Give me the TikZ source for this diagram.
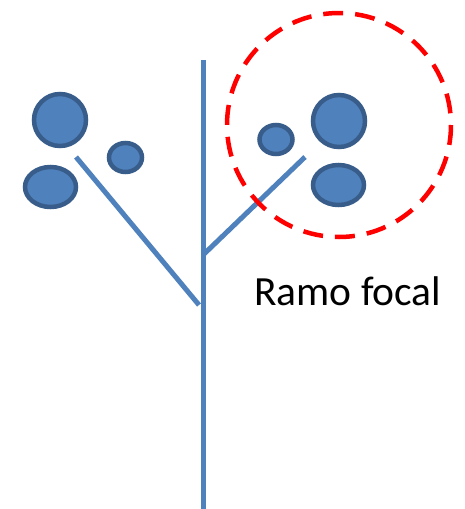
\documentclass[tikz,border=0pt]{standalone}
\usepackage{fontspec}
\setmainfont{Carlito}
\usetikzlibrary{positioning}
\definecolor{budfill}{HTML}{4F81BD}
\definecolor{budline}{HTML}{385D8A}

\begin{document}
\begin{tikzpicture}[
  x=1pt, y=-1pt,
  stem/.style={draw=budfill, line width=5pt},
  bud/.style={draw=budline, fill=budfill, line width=4.5pt},
  focus/.style={draw=red, line width=4.5pt, dash pattern=on 20pt off 12pt}
]
\useasboundingbox (0,0) rectangle (464,509);

% stem and branches
\coordinate (top) at (203,60);
\coordinate (bottom) at (203,512);
\coordinate (lfork) at (199,305);
\coordinate (ltip) at (76,157);
\coordinate (rfork) at (203,255);
\coordinate (rtip) at (305,157);

\draw[stem] (top) -- (bottom);
\draw[stem] (lfork) -- (ltip);
\draw[stem] (rfork) -- (rtip);

% buds
\draw[bud] (60,120) circle (26);
\draw[bud] (125.5,157.5) ellipse (16.5 and 14.5);
\draw[bud] (50.5,187) ellipse (25.5 and 20);
\draw[bud] (276,139.5) ellipse (16.5 and 14.5);
\draw[bud] (339,121) circle (26);
\draw[bud] (338.5,185) ellipse (25.5 and 20);

% focal branch
\draw[focus] (339,125) circle (112);
\node[anchor=base west, inner sep=0pt, font=\fontsize{41.5}{50}\selectfont] (label) at (254,305) {Ramo focal};
\end{tikzpicture}
\end{document}
